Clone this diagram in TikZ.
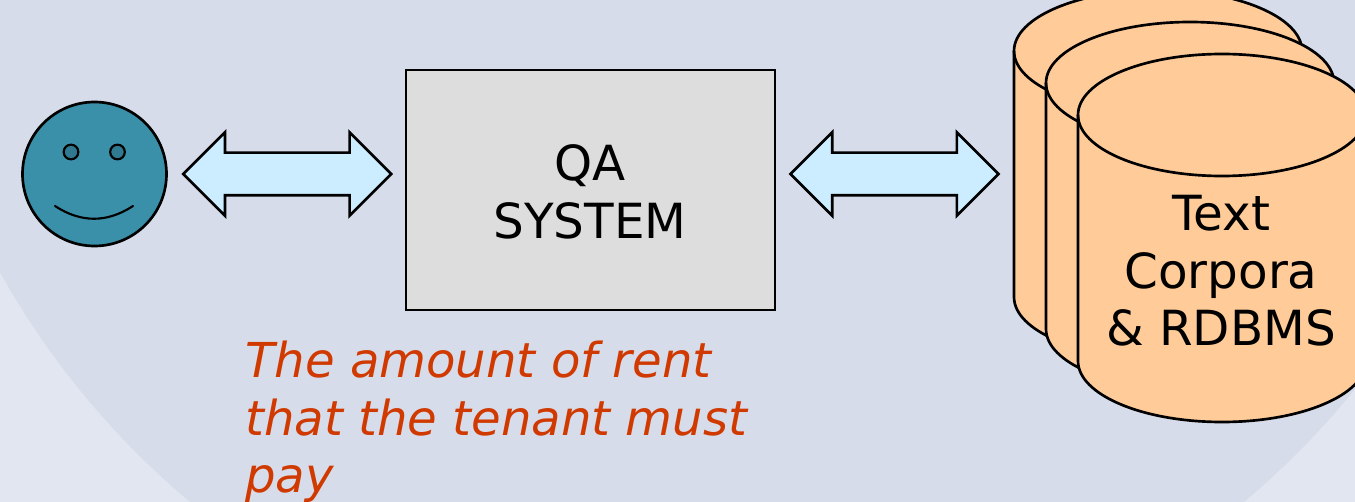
\documentclass[tikz,border=0pt]{standalone}
\usepackage{fontspec}
\setmainfont{DejaVu Sans}
\usepackage[HTML]{xcolor}
\usetikzlibrary{positioning, shapes.arrows}
\definecolor{slidelight}{HTML}{E2E6F1}
\definecolor{slidedark}{HTML}{D7DCEA}
\definecolor{facefill}{HTML}{3A90A9}
\definecolor{eyefill}{HTML}{2F7A90}
\definecolor{linkfill}{HTML}{CCECFF}
\definecolor{boxfill}{HTML}{DDDDDD}
\definecolor{storefill}{HTML}{FFCC99}
\definecolor{answerred}{HTML}{D03A00}
\tikzset{
    outline/.style={draw=black, line width=2pt, outer sep=0pt, inner sep=0pt},
    linkarrow/.style={outline, double arrow, fill=linkfill, minimum height=156pt,
        inner ysep=15pt, double arrow head extend=15.25pt, double arrow tip angle=90},
    store/.style={draw=black, line width=2pt, fill=storefill},
    eye/.style={outline, circle, fill=eyefill, line width=1.6pt, minimum size=11pt},
    bigtext/.style={align=center, font=\fontsize{36.3}{43}\selectfont}
}
% one drum of the stack: coordinate name, left end of the top ellipse
\newcommand{\storedrum}[2]{
    \coordinate (#1) at (#2);
    \filldraw[store] (#1) arc[start angle=180, end angle=360, x radius=144, y radius=61]
        -- ++(0,246) arc[start angle=0, end angle=180, x radius=144, y radius=61] -- cycle;
    \draw[store, fill=none] (#1) arc[start angle=180, end angle=0, x radius=144, y radius=61];
}
\begin{document}
\begin{tikzpicture}[x=0.75pt, y=-0.75pt]
    \useasboundingbox (0,0) rectangle (1355,502);
    \clip (0,0) rectangle (1355,502);

    % 1. Slide background
    \fill[slidelight] (0,0) rectangle (1355,502);
    \fill[slidedark] (717,-127) circle (820.5);

    % 2. User face
    \node (face) [outline, circle, fill=facefill, minimum size=108pt] at (94.5,174) {};
    \node (eyeL) [eye] at (71,152) {};
    \node (eyeR) [eye] at (117.5,152) {};
    \coordinate (smileL) at (55,206);
    \coordinate (smileR) at (133,206);
    \draw[line width=1.6pt, line cap=round] (smileL) .. controls (81,223) and (107,223) .. (smileR);

    % 3. QA box and arrows on both sides
    \node (qa) [outline, fill=boxfill, minimum width=276.75pt, minimum height=180pt] at (590.5,190) {};
    \node (qaText) [bigtext] at (590,192) {QA\\SYSTEM};
    \node (userlink) [linkarrow, left=11pt of qa.west |- face] {};
    \node (storelink) [linkarrow] at (894.5,174) {};

    % 4. Stacked stores
    \storedrum{storeC}{1014,51}
    \storedrum{storeB}{1046,83}
    \storedrum{storeA}{1078,115}
    \node (storeText) [bigtext] at (1221,271) {Text\\Corpora\\\& RDBMS};

    % 5. Answer text
    \node (answer) [anchor=north west, inner sep=0pt, align=left, text=answerred,
        font=\fontsize{36.1}{43}\selectfont\itshape] at (245,341)
        {The amount of rent\\that the tenant must\\pay};
\end{tikzpicture}
\end{document}
